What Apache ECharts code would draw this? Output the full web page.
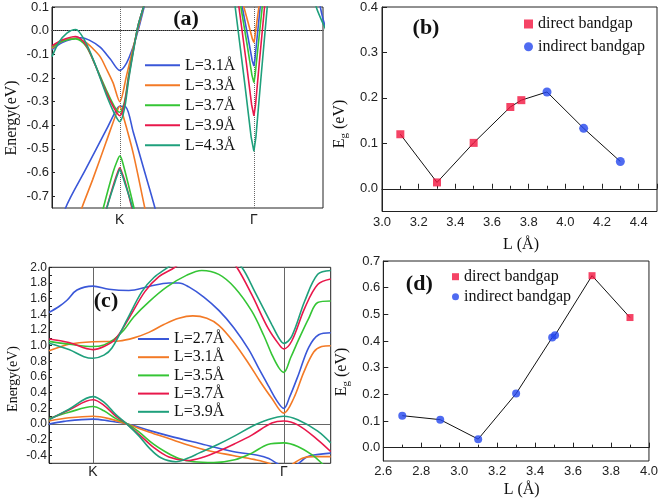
<!DOCTYPE html>
<html><head><meta charset="utf-8">
<script src="https://cdn.jsdelivr.net/npm/echarts@6/dist/echarts.min.js"></script>
<style>html,body{margin:0;padding:0;background:#fff}#c{width:661px;height:501px}</style>
</head><body><div id="c"></div>
<script>
// ================= Panel (a) : band structure =================
const aKpos = 1.0, aGpos = 2.98;
const aYTicks = [-0.7,-0.6,-0.5,-0.4,-0.3,-0.2,-0.1,0.0,0.1];
const aNames = ['L=3.1Å','L=3.3Å','L=3.7Å','L=3.9Å','L=4.3Å'];
// L=3.1 (blue)
const a31Up = [[0,-0.08],[0.15,-0.05],[0.3,-0.035],[0.42,-0.03],[0.55,-0.04],[0.71,-0.07],[0.86,-0.12],[1.0,-0.168],[1.1,-0.137],[1.2,-0.067],[1.27,0],[1.36,0.1],[1.45,0.2]];
const a31Lo = [[0.1,-0.87],[0.2,-0.75],[0.5,-0.585],[0.8,-0.42],[0.95,-0.335],[1.0,-0.32],[1.09,-0.323],[1.2,-0.43],[1.35,-0.58],[1.52,-0.75],[1.6,-0.85]];
const a31G  = [[2.756,0.175],[2.808,0.1],[2.894,-0.03],[2.954,-0.125],[2.98,-0.15],[2.994,-0.125],[3.027,-0.03],[3.073,0.1],[3.101,0.175]];
const a31R  = [[3.93,0.15],[3.96,0.1],[4.0,0.05],[4.03,0.02]];
// L=3.3 (orange)
const a33Up = [[0,-0.075],[0.15,-0.045],[0.34,-0.032],[0.5,-0.05],[0.6,-0.075],[0.71,-0.11],[0.8,-0.16],[0.9,-0.22],[1.0,-0.30],[1.1,-0.19],[1.2,-0.07],[1.28,0.02],[1.35,0.1],[1.42,0.18]];
const a33Lo = [[0.35,-0.83],[0.44,-0.75],[0.6,-0.63],[0.8,-0.47],[0.95,-0.35],[1.0,-0.32],[1.05,-0.36],[1.2,-0.52],[1.37,-0.75],[1.45,-0.85]];
const a33G  = [[2.788,0.145],[2.832,0.1],[2.906,0.022],[2.958,-0.035],[2.98,-0.05],[2.991,-0.035],[3.017,0.022],[3.054,0.1],[3.076,0.145]];
// L=3.7 (green)
const a37Up = [[0,-0.07],[0.15,-0.045],[0.35,-0.035],[0.5,-0.065],[0.63,-0.14],[0.8,-0.25],[0.92,-0.32],[1.0,-0.345],[1.07,-0.3],[1.13,-0.19],[1.2,-0.08],[1.27,0.02],[1.35,0.1],[1.43,0.19]];
const a37Lo = [[0.7,-0.82],[0.757,-0.75],[0.9,-0.6],[0.97,-0.545],[1.0,-0.53],[1.03,-0.545],[1.1,-0.62],[1.21,-0.75],[1.26,-0.82]];
const a37G  = [[2.730,0.196],[2.788,0.1],[2.884,-0.066],[2.951,-0.188],[2.98,-0.22],[2.998,-0.188],[3.042,-0.066],[3.103,0.1],[3.140,0.196]];
// L=3.9 (red)
const a39Up = [[0,-0.065],[0.15,-0.04],[0.35,-0.025],[0.5,-0.06],[0.63,-0.14],[0.8,-0.26],[0.92,-0.33],[1.0,-0.36],[1.07,-0.31],[1.13,-0.2],[1.2,-0.085],[1.27,0.02],[1.35,0.1],[1.43,0.19]];
const a39Lo = [[0.75,-0.82],[0.807,-0.75],[0.92,-0.64],[0.98,-0.59],[1.0,-0.58],[1.02,-0.59],[1.08,-0.64],[1.18,-0.75],[1.23,-0.82]];
const a39G  = [[2.693,0.238],[2.759,0.1],[2.870,-0.139],[2.947,-0.314],[2.98,-0.36],[3.004,-0.314],[3.059,-0.139],[3.137,0.1],[3.184,0.238]];
// L=4.3 (teal)
const a43Up = [[0,-0.11],[0.1,-0.05],[0.22,-0.01],[0.35,0.005],[0.48,-0.04],[0.62,-0.13],[0.8,-0.27],[0.92,-0.35],[1.0,-0.385],[1.07,-0.33],[1.13,-0.21],[1.2,-0.09],[1.27,0.02],[1.35,0.1],[1.43,0.19]];
const a43Lo = [[0.76,-0.82],[0.81,-0.75],[0.93,-0.64],[0.985,-0.595],[1.0,-0.585],[1.015,-0.595],[1.07,-0.64],[1.19,-0.75],[1.24,-0.82]];
const a43G  = [[2.621,0.283],[2.704,0.1],[2.842,-0.217],[2.939,-0.449],[2.98,-0.51],[3.01,-0.449],[3.079,-0.217],[3.177,0.1],[3.236,0.283]];
const a43R  = [[3.82,0.2],[3.9,0.1],[4.0,0.03],[4.05,0.0]];

// ================= Panel (c) : band structure =================
const cKpos = 0.44, cGpos = 2.35;
const cYLabels = [-0.4,-0.2,0.0,0.2,0.4,0.6,0.8,1.0,1.2,1.4,1.6,1.8,2.0];
const cNames = ['L=2.7Å','L=3.1Å','L=3.5Å','L=3.7Å','L=3.9Å'];
// L=2.7 (blue)
const c27Up = [[0,1.425],[0.1,1.5],[0.18,1.58],[0.28,1.71],[0.44,1.76],[0.6,1.72],[0.8,1.705],[1.0,1.755],[1.2,1.8],[1.3,1.8],[1.4,1.75],[1.55,1.62],[1.7,1.45],[1.85,1.23],[2.0,0.95],[2.1,0.71],[2.2,0.48],[2.28,0.3],[2.35,0.2],[2.41,0.35],[2.5,0.64],[2.6,0.98],[2.7,1.14],[2.82,1.165]];
const c27Va = [[0,0.0],[0.15,0.035],[0.44,0.064],[0.6,0.04],[0.79,0],[1.0,-0.08],[1.2,-0.15],[1.5,-0.245],[1.84,-0.35],[2.1,-0.4],[2.2,-0.44],[2.28,-0.5],[2.4,-0.6],[2.5,-0.5],[2.58,-0.42],[2.65,-0.395],[2.82,-0.37]];
// L=3.1 (orange)
const c31Up = [[0,0.935],[0.1,0.98],[0.2,1.02],[0.44,1.05],[0.7,1.06],[0.85,1.1],[1.0,1.17],[1.15,1.27],[1.3,1.35],[1.44,1.38],[1.58,1.35],[1.7,1.26],[1.84,1.06],[2.0,0.77],[2.11,0.55],[2.23,0.33],[2.35,0.14],[2.45,0.33],[2.55,0.66],[2.65,0.92],[2.73,0.99],[2.82,1.0]];
const c31Va = [[0,0.04],[0.2,0.08],[0.44,0.1],[0.6,0.07],[0.78,0],[1.0,-0.1],[1.2,-0.185],[1.4,-0.27],[1.6,-0.34],[1.84,-0.4],[2.05,-0.45],[2.2,-0.5],[2.35,-0.6],[2.45,-0.5],[2.55,-0.43],[2.65,-0.415],[2.82,-0.415]];
// L=3.5 (green)
const c35Up = [[0,1.055],[0.2,1.02],[0.44,0.99],[0.55,1.01],[0.65,1.08],[0.75,1.2],[0.85,1.37],[1.0,1.56],[1.18,1.75],[1.38,1.9],[1.53,1.96],[1.7,1.91],[1.86,1.74],[2.03,1.44],[2.15,1.13],[2.23,0.89],[2.3,0.72],[2.35,0.66],[2.42,0.85],[2.5,1.08],[2.6,1.35],[2.69,1.55],[2.82,1.57]];
const c35Va = [[0,0.07],[0.2,0.15],[0.44,0.225],[0.55,0.17],[0.67,0.07],[0.79,0],[0.9,-0.1],[1.05,-0.26],[1.16,-0.35],[1.3,-0.44],[1.45,-0.48],[1.65,-0.49],[1.86,-0.455],[2.03,-0.37],[2.19,-0.26],[2.35,-0.24],[2.49,-0.285],[2.63,-0.39],[2.73,-0.5],[2.8,-0.6]];
// L=3.7 (red)
const c37Up = [[0,1.085],[0.2,1.04],[0.44,0.95],[0.55,0.99],[0.66,1.08],[0.8,1.35],[0.96,1.69],[1.1,1.88],[1.26,2.0],[1.4,2.15],[1.6,2.3],[1.75,2.2],[1.88,2.0],[2.03,1.65],[2.19,1.23],[2.3,1.02],[2.35,0.96],[2.43,1.06],[2.56,1.48],[2.69,1.78],[2.82,1.85]];
const c37Va = [[0,0.06],[0.2,0.18],[0.44,0.31],[0.55,0.24],[0.67,0.1],[0.78,0],[0.9,-0.13],[1.05,-0.3],[1.2,-0.42],[1.38,-0.465],[1.55,-0.42],[1.69,-0.35],[1.86,-0.25],[2.03,-0.14],[2.23,0.013],[2.35,0.04],[2.49,-0.01],[2.69,-0.2],[2.82,-0.35]];
// L=3.9 (teal)
const c39Up = [[0,1.03],[0.2,0.95],[0.35,0.86],[0.44,0.84],[0.55,0.88],[0.63,0.97],[0.78,1.33],[0.93,1.69],[1.05,1.87],[1.19,2.0],[1.4,2.2],[1.65,2.25],[1.8,2.15],[1.93,2.0],[2.06,1.69],[2.23,1.27],[2.31,1.08],[2.35,1.03],[2.43,1.12],[2.56,1.57],[2.69,1.91],[2.82,1.96]];
const c39Va = [[0,0.055],[0.2,0.19],[0.44,0.35],[0.55,0.28],[0.67,0.12],[0.78,0],[0.9,-0.15],[1.0,-0.3],[1.12,-0.43],[1.27,-0.48],[1.4,-0.43],[1.5,-0.37],[1.69,-0.26],[1.86,-0.15],[2.03,-0.03],[2.19,0.055],[2.35,0.1],[2.49,0.055],[2.69,-0.09],[2.82,-0.24]];

// ================= Panel (b) : band gap vs L =================
const bL    = [3.1, 3.3, 3.5, 3.7, 3.76, 3.9, 4.1, 4.3];
const bEg   = [0.12, 0.014, 0.101, 0.18, 0.195, 0.213, 0.133, 0.06];
const bType = ['d','d','d','d','d','i','i','i'];
const bXLabels = [3.0,3.2,3.4,3.6,3.8,4.0,4.2,4.4];
const bYLabels = [0.0,0.1,0.2,0.3,0.4];

// ================= Panel (d) : band gap vs L =================
const dL    = [2.7, 2.9, 3.1, 3.3, 3.49, 3.505, 3.7, 3.9];
const dEg   = [0.12, 0.105, 0.032, 0.203, 0.413, 0.422, 0.645, 0.488];
const dType = ['i','i','i','i','i','i','d','d'];
const dXLabels = [2.6,2.8,3.0,3.2,3.4,3.6,3.8,4.0];
const dYLabels = [0.0,0.1,0.2,0.3,0.4,0.5,0.6,0.7];

// ---------------- styling ----------------
const C = { blue:'#3a57d8', orange:'#f37a26', green:'#35c535', red:'#e8184b', teal:'#1fa07c' };
const SANS = "'Liberation Sans', Arial, sans-serif";
const SERIF = "'Liberation Serif', 'Times New Roman', serif";
const AX = '#222';

function band(name, data, idx, color, smooth) {
  return { type:'line', name, data, xAxisIndex:idx, yAxisIndex:idx, symbol:'none',
    smooth: smooth, clip:true, lineStyle:{ color, width:1.6 }, itemStyle:{ color }, z:3, silent:true, animation:false };
}
function refLines(idx, lines, style) {
  return { type:'line', data:[], xAxisIndex:idx, yAxisIndex:idx, symbol:'none', silent:true, animation:false,
    markLine:{ silent:true, symbol:'none', z:1, animation:false, label:{show:false}, lineStyle:style, data:lines } };
}
const fmt1 = v => (Math.round(v*10)/10).toFixed(1);

const grids = [
  { left:52, top:7, width:271, height:201 },
  { left:382, top:7, width:275, height:204.5 },
  { left:49, top:267.3, width:281.7, height:196 },
  { left:383.3, top:261, width:268.3, height:200 }
].map(g => Object.assign(g, { show:true, borderColor:AX, borderWidth:1, backgroundColor:'transparent' }));

const lblBase = { fontFamily:SANS, fontSize:13, color:'#222' };

const xAxes = [
  { gridIndex:0, type:'value', min:0, max:4, splitLine:{show:false},
    axisLine:{lineStyle:{color:AX}}, axisTick:{show:false},
    axisLabel:Object.assign({}, lblBase, { fontSize:14, margin:5, customValues:[aKpos, aGpos],
      formatter: v => (Math.abs(v-aKpos)<1e-6 ? 'K' : 'Γ') }) },
  { gridIndex:1, type:'value', min:3.0, max:4.5, interval:0.2, splitLine:{show:false},
    axisLine:{lineStyle:{color:AX}}, axisTick:{inside:true, length:5, lineStyle:{color:AX}},
    minorTick:{show:true, splitNumber:2, length:3, lineStyle:{color:AX}},
    axisLabel:Object.assign({}, lblBase, { margin:4, customValues:bXLabels, formatter: fmt1 }) },
  { gridIndex:2, type:'value', min:0, max:2.82, splitLine:{show:false},
    axisLine:{lineStyle:{color:AX}}, axisTick:{show:false},
    axisLabel:Object.assign({}, lblBase, { fontSize:14, margin:2, customValues:[cKpos, cGpos],
      formatter: v => (Math.abs(v-cKpos)<1e-6 ? 'K' : 'Γ') }) },
  { gridIndex:3, type:'value', min:2.6, max:4.0, interval:0.2, splitLine:{show:false},
    axisLine:{lineStyle:{color:AX}}, axisTick:{inside:true, length:5, lineStyle:{color:AX}},
    minorTick:{show:true, splitNumber:2, length:3, lineStyle:{color:AX}},
    axisLabel:Object.assign({}, lblBase, { margin:4, customValues:dXLabels, formatter: fmt1 }) }
];
const yAxes = [
  { gridIndex:0, type:'value', min:-0.75, max:0.1, splitLine:{show:false},
    axisLine:{lineStyle:{color:AX}}, axisTick:{inside:true, length:3, customValues:aYTicks, lineStyle:{color:AX}},
    axisLabel:Object.assign({}, lblBase, { margin:3, customValues:aYTicks, formatter: fmt1 }) },
  { gridIndex:1, type:'value', min:-0.05, max:0.4, splitLine:{show:false},
    axisLine:{lineStyle:{color:AX}}, axisTick:{inside:true, length:5, customValues:bYLabels, lineStyle:{color:AX}},
    axisLabel:Object.assign({}, lblBase, { margin:4, customValues:bYLabels, formatter: fmt1 }) },
  { gridIndex:2, type:'value', min:-0.5, max:2.0, interval:0.1, splitLine:{show:false},
    axisLine:{lineStyle:{color:AX}}, axisTick:{inside:true, length:3, lineStyle:{color:AX}},
    axisLabel:Object.assign({}, lblBase, { fontSize:12, margin:2, customValues:cYLabels, formatter: fmt1 }) },
  { gridIndex:3, type:'value', min:-0.05, max:0.7, splitLine:{show:false},
    axisLine:{lineStyle:{color:AX}}, axisTick:{inside:true, length:5, customValues:dYLabels, lineStyle:{color:AX}},
    axisLabel:Object.assign({}, lblBase, { margin:3, customValues:dYLabels, formatter: fmt1 }) }
];

const series = [];
// reference lines
series.push(refLines(0, [{yAxis:0},{xAxis:aKpos},{xAxis:aGpos}], {color:'#666', type:'dotted', width:1}));
series.push(refLines(2, [{yAxis:0},{xAxis:cKpos},{xAxis:cGpos}], {color:'#666', type:'solid', width:1}));
// panel (a)
const aVee = [a31G, a33G, a37G, a39G, a43G];
const aSets = [
  [aNames[0], C.blue,   [a31Up, a31Lo, a31G, a31R]],
  [aNames[1], C.orange, [a33Up, a33Lo, a33G]],
  [aNames[2], C.green,  [a37Up, a37Lo, a37G]],
  [aNames[3], C.red,    [a39Up, a39Lo, a39G]],
  [aNames[4], C.teal,   [a43Up, a43Lo, a43G, a43R]]
];
aSets.forEach(([n, col, arrs]) => arrs.forEach(d => series.push(band(n, d, 0, col, aVee.includes(d) ? false : 0.3))));
// panel (c)
const cSets = [
  [cNames[0], C.blue,   [c27Up, c27Va]],
  [cNames[1], C.orange, [c31Up, c31Va]],
  [cNames[2], C.green,  [c35Up, c35Va]],
  [cNames[3], C.red,    [c37Up, c37Va]],
  [cNames[4], C.teal,   [c39Up, c39Va]]
];
cSets.forEach(([n, col, arrs]) => arrs.forEach(d => series.push(band('c:' + n, d, 2, col, 0.35))));

// panels (b) and (d)
function gapSeries(idx, Ls, Es, types, prefix, sq, ci) {
  const all = Ls.map((l, i) => [l, Es[i]]);
  series.push({ type:'line', name:prefix+'line', data:all, xAxisIndex:idx, yAxisIndex:idx, symbol:'none',
    lineStyle:{color:'#111', width:1}, silent:true, animation:false, z:2 });
  series.push({ type:'scatter', name:prefix+'direct bandgap', data:all.filter((p,i)=>types[i]==='d'),
    xAxisIndex:idx, yAxisIndex:idx, symbol:'rect', symbolSize:sq, itemStyle:{color:'#f2143f'}, z:4, animation:false });
  series.push({ type:'scatter', name:prefix+'indirect bandgap', data:all.filter((p,i)=>types[i]==='i'),
    xAxisIndex:idx, yAxisIndex:idx, symbol:'circle', symbolSize:ci, itemStyle:{color:'#2346ee'}, z:4, animation:false });
}
gapSeries(1, bL, bEg, bType, 'b:', 8, 9);
gapSeries(3, dL, dEg, dType, 'd:', 7, 8);

const legTxt = { fontFamily:SERIF, fontSize:16, color:'#111', lineHeight:16 };
const strip = n => n.slice(2);
const legend = [
  { data:aNames, orient:'vertical', left:145, top:57.3, icon:'rect', itemWidth:35, itemHeight:2, itemGap:4, padding:0,
    textStyle:legTxt, selectedMode:false },
  { data:cNames.map(n=>'c:'+n), formatter:strip, orient:'vertical', left:138, top:331, icon:'rect', itemWidth:31, itemHeight:2, itemGap:2.2, padding:0,
    textStyle:legTxt, selectedMode:false },
  { data:['b:direct bandgap','b:indirect bandgap'], formatter:strip, orient:'vertical', left:524, top:16,
    itemWidth:9, itemHeight:9, itemGap:6.7, padding:0, textStyle:legTxt, selectedMode:false },
  { data:['d:direct bandgap','d:indirect bandgap'], formatter:strip, orient:'vertical', left:452, top:268.7,
    itemWidth:7, itemHeight:7, itemGap:4, padding:0, textStyle:legTxt, selectedMode:false }
];

function txt(x, y, text, font, rot, rich) {
  const el = { type:'text', x, y, rotation: rot || 0, silent:true,
    style:{ text, font, fill:'#111', align:'center', verticalAlign:'middle', textAlign:'center', textVerticalAlign:'middle' } };
  if (rich) el.style.rich = rich;
  return el;
}
const egRich = {
  a:{ fontFamily:SERIF, fontSize:16, fill:'#111', lineHeight:20 },
  s:{ fontFamily:SERIF, fontSize:11, fill:'#111', lineHeight:20, padding:[9,0,0,0] }
};
const graphic = [
  txt(186, 19, '(a)', 'bold 22px ' + SERIF),
  txt(426, 28.5, '(b)', 'bold 22px ' + SERIF),
  txt(106, 301.5, '(c)', 'bold 22px ' + SERIF),
  txt(419.3, 284, '(d)', 'bold 22px ' + SERIF),
  txt(12, 118, 'Energy(eV)', '16px ' + SERIF, Math.PI/2),
  txt(13, 379, 'Energy(eV)', '14px ' + SERIF, Math.PI/2),
  txt(340, 124, '{a|E}{s|g}{a| (eV)}', '16px ' + SERIF, Math.PI/2, egRich),
  txt(342, 372, '{a|E}{s|g}{a| (eV)}', '16px ' + SERIF, Math.PI/2, egRich),
  txt(521, 245, 'L (Å)', '16px ' + SERIF),
  txt(521.7, 489.3, 'L (Å)', '16px ' + SERIF)
];

const chart = echarts.init(document.getElementById('c'), null, { renderer:'canvas' });
chart.setOption({ animation:false, backgroundColor:'#fff', grid:grids, xAxis:xAxes, yAxis:yAxes, series, legend, graphic });
</script></body></html>
